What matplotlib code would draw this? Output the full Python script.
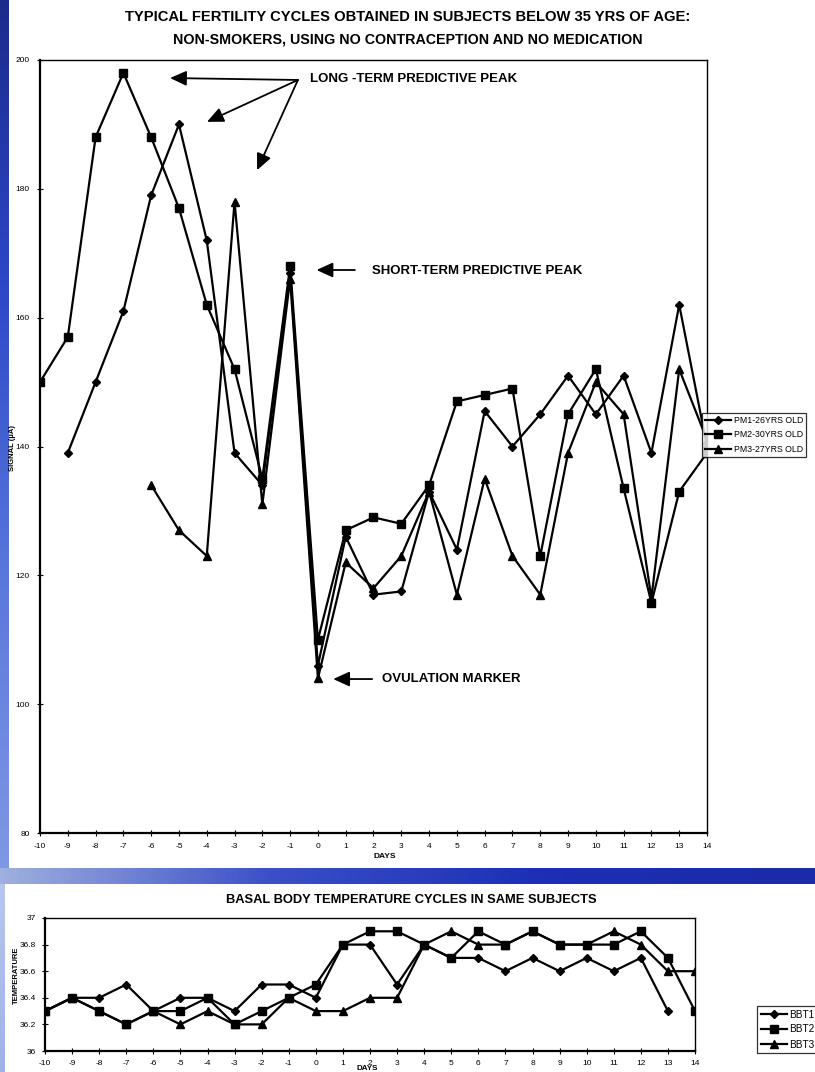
import numpy as np
import matplotlib
matplotlib.use("Agg")
import matplotlib.pyplot as plt
from matplotlib.colors import LinearSegmentedColormap

plt.rcParams['font.family'] = ['Liberation Sans', 'DejaVu Sans']
plt.rcParams['axes.unicode_minus'] = False

nan = np.nan
days = list(range(-10, 15))
day_ticks = list(range(-10, 15))

pm_labels = ["PM1-26YRS OLD", "PM2-30YRS OLD", "PM3-27YRS OLD"]
pm1 = [nan, 139, 150, 161, 179, 190, 172, 139, 134, 167, 106, 126, 117, 117.5,
       133, 124, 145.5, 140, 145, 151, 145, 151, 139, 162, 140]
pm2 = [150, 157, 188, 198, 188, 177, 162, 152, 135, 168, 110, 127, 129, 128,
       134, 147, 148, 149, 123, 145, 152, 133.5, 115.7, 133, 139]
pm3 = [nan, nan, nan, nan, 134, 127, 123, 178, 131, 166, 104, 122, 118, 123,
       133, 117, 135, 123, 117, 139, 150, 145, 116.5, 152, 141]
signal_ticks = [80, 100, 120, 140, 160, 180, 200]

bbt_labels = ["BBT1", "BBT2", "BBT3"]
bbt1 = [36.3, 36.4, 36.4, 36.5, 36.3, 36.4, 36.4, 36.3, 36.5, 36.5, 36.4, 36.8,
        36.8, 36.5, 36.8, 36.7, 36.7, 36.6, 36.7, 36.6, 36.7, 36.6, 36.7, 36.3, nan]
bbt2 = [36.3, 36.4, 36.3, 36.2, 36.3, 36.3, 36.4, 36.2, 36.3, 36.4, 36.5, 36.8,
        36.9, 36.9, 36.8, 36.7, 36.9, 36.8, 36.9, 36.8, 36.8, 36.8, 36.9, 36.7, 36.3]
bbt3 = [36.3, 36.4, 36.3, 36.2, 36.3, 36.2, 36.3, 36.2, 36.2, 36.4, 36.3, 36.3,
        36.4, 36.4, 36.8, 36.9, 36.8, 36.8, 36.9, 36.8, 36.8, 36.9, 36.8, 36.6, 36.6]
temp_ticks = [36, 36.2, 36.4, 36.6, 36.8, 37]
temp_ticklabels = ["36", "36.2", "36.4", "36.6", "36.8", "37"]

W, H = 815, 1072
fig = plt.figure(figsize=(W / 100, H / 100), dpi=100)
fig.patch.set_facecolor('white')

def fx(px):
    return px / W

def fy(py):
    return 1 - py / H

# ---- decorative blue strips (scanned slide look) ----
band = fig.add_axes([0, fy(884), 1, fy(868) - fy(884)])
g = np.linspace(0, 1, 256).reshape(1, -1)
cm_band = LinearSegmentedColormap.from_list("b", ["#9fb0de", "#3a4fc8", "#1c2fb5", "#1a2aa8"])
band.imshow(g, aspect='auto', cmap=cm_band, extent=[0, 1, 0, 1])
band.axis('off')

left = fig.add_axes([0, fy(868), fx(9), fy(0) - fy(868)])
gv = np.linspace(0, 1, 256).reshape(-1, 1)
cm_left = LinearSegmentedColormap.from_list("l", ["#1b2a8c", "#2d48c8", "#5a78dc", "#7f98e4"])
left.imshow(gv, aspect='auto', cmap=cm_left, extent=[0, 1, 0, 1])
left.axis('off')

left2 = fig.add_axes([0, 0, fx(5), fy(884)])
left2.imshow(gv, aspect='auto', cmap=LinearSegmentedColormap.from_list("l2", ["#b8c6ee", "#9fb2e8"]),
             extent=[0, 1, 0, 1])
left2.axis('off')

# ---- top chart ----
ax = fig.add_axes([fx(40), fy(833), fx(707) - fx(40), fy(60) - fy(833)])
styles = [dict(marker='D', ms=3.8), dict(marker='s', ms=6.2), dict(marker='^', ms=5.2)]
for vals, lab, st in zip([pm1, pm2, pm3], pm_labels, styles):
    ax.plot(days, vals, color='black', lw=1.6, label=lab, mfc='black', mec='black', **st)

ax.set_xlim(-10, 14)
ax.set_ylim(80, 200)
ax.set_xticks(day_ticks)
ax.set_yticks(signal_ticks)
ax.tick_params(direction='inout', length=5, width=0.8, labelsize=6, pad=5)
for s in ax.spines.values():
    s.set_linewidth(1.0)
ax.spines['bottom'].set_linewidth(1.6)
ax.spines['left'].set_linewidth(1.6)

fig.text(0.5, fy(17), "TYPICAL FERTILITY CYCLES OBTAINED IN SUBJECTS BELOW 35 YRS OF AGE:",
         ha='center', va='center', fontsize=10.6, fontweight='bold')
fig.text(0.5, fy(40), "NON-SMOKERS, USING NO CONTRACEPTION AND NO MEDICATION",
         ha='center', va='center', fontsize=10.3, fontweight='bold')
fig.text(fx(13), fy(448), "SIGNAL (µA)", rotation=90, ha='center', va='center',
         fontsize=5.5, fontweight='bold')
fig.text(fx(385), fy(857), "DAYS", ha='center', va='center', fontsize=6, fontweight='bold')

arrow = dict(arrowstyle='-|>,head_length=0.55,head_width=0.25', color='black', lw=1.3,
             shrinkA=0, shrinkB=0, mutation_scale=18)
src = (-0.72, 196.9)
for tip in [(-5.32, 197.2), (-3.99, 190.4), (-2.19, 182.9)]:
    ax.annotate("", xy=tip, xytext=src, arrowprops=arrow)
ax.text(-0.3, 197.0, "LONG -TERM PREDICTIVE PEAK", fontsize=9.5, fontweight='bold', va='center')
ax.annotate("", xy=(-0.05, 167.4), xytext=(1.33, 167.4), arrowprops=arrow)
ax.text(1.95, 167.2, "SHORT-TERM PREDICTIVE PEAK", fontsize=9.5, fontweight='bold', va='center')
ax.annotate("", xy=(0.55, 103.9), xytext=(1.95, 103.9), arrowprops=arrow)
ax.text(2.3, 103.9, "OVULATION MARKER", fontsize=9.5, fontweight='bold', va='center')

leg = ax.legend(loc='upper left', bbox_to_anchor=(fx(702), fy(413)), bbox_transform=fig.transFigure,
                fontsize=6.3, frameon=True, fancybox=False, borderaxespad=0, handlelength=3.0,
                handletextpad=0.3, borderpad=0.35, labelspacing=0.6)
leg.get_frame().set_edgecolor('black')
leg.get_frame().set_linewidth(0.9)
leg.set_zorder(10)

# ---- bottom chart ----
ax2 = fig.add_axes([fx(45), fy(1051), fx(695) - fx(45), fy(918) - fy(1051)])
for vals, lab, st in zip([bbt1, bbt2, bbt3], bbt_labels, styles):
    ax2.plot(days, vals, color='black', lw=1.6, label=lab, mfc='black', mec='black', **st)
ax2.set_xlim(-10, 14)
ax2.set_ylim(36, 37)
ax2.set_xticks(day_ticks)
ax2.set_yticks(temp_ticks)
ax2.set_yticklabels(temp_ticklabels)
ax2.tick_params(direction='inout', length=5, width=0.8, labelsize=6, pad=4)
for s in ax2.spines.values():
    s.set_linewidth(1.0)
ax2.spines['bottom'].set_linewidth(1.6)
ax2.spines['left'].set_linewidth(1.6)

fig.text(fx(411), fy(900), "BASAL BODY TEMPERATURE CYCLES IN SAME SUBJECTS",
         ha='center', va='center', fontsize=9.3, fontweight='bold')
fig.text(fx(16), fy(975), "TEMPERATURE", rotation=90, ha='center', va='center',
         fontsize=5.5, fontweight='bold')
fig.text(fx(367), fy(1068), "DAYS", ha='center', va='center', fontsize=5.8, fontweight='bold')

leg2 = ax2.legend(loc='upper left', bbox_to_anchor=(fx(757), fy(1006)), bbox_transform=fig.transFigure,
                  fontsize=7.2, frameon=True, fancybox=False, borderaxespad=0, handlelength=2.6,
                  handletextpad=0.3, borderpad=0.35, labelspacing=0.5)
leg2.get_frame().set_edgecolor('black')
leg2.get_frame().set_linewidth(0.9)

fig.savefig("out.png", dpi=100, facecolor='white')
